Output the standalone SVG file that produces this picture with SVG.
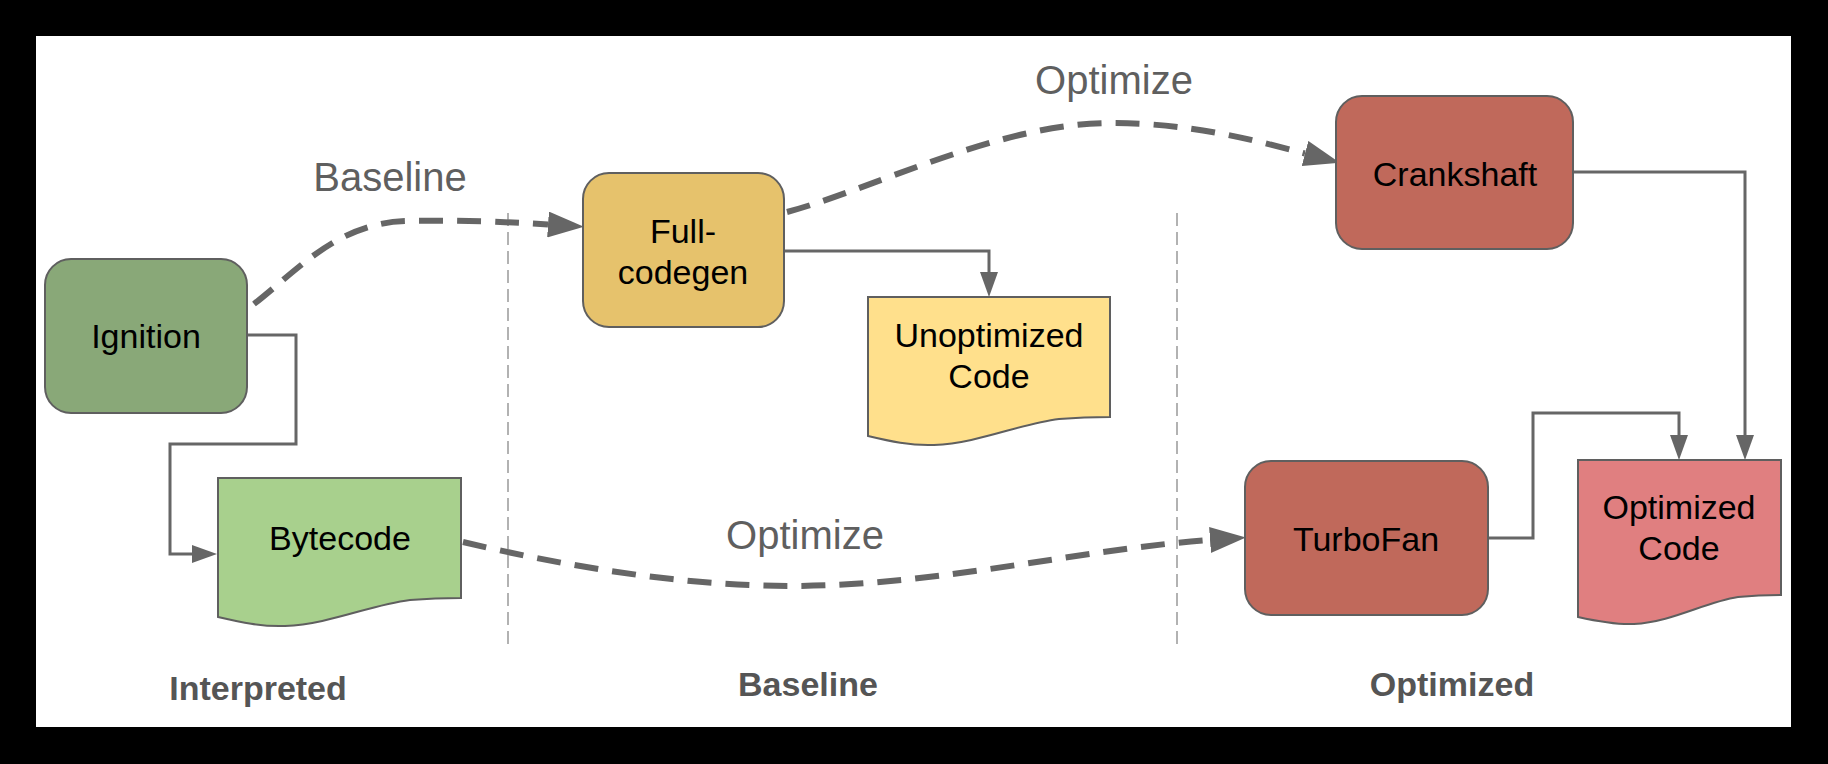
<svg xmlns="http://www.w3.org/2000/svg" width="1828" height="764" viewBox="0 0 1828 764">
<style>
.node{stroke:#5f5f5f;stroke-width:2}
.ntext{font-family:"Liberation Sans",Arial,sans-serif;font-size:34px;fill:#000;text-anchor:middle}
.elabel{font-family:"Liberation Sans",Arial,sans-serif;font-size:40px;fill:#5f5f5f;text-anchor:middle}
.slabel{font-family:"Liberation Sans",Arial,sans-serif;font-size:34px;font-weight:bold;fill:#555;text-anchor:middle}
.conn{fill:none;stroke:#666;stroke-width:3;marker-end:url(#arrowSmall)}
.dconn{fill:none;stroke:#666;stroke-width:6;stroke-dasharray:24 14;marker-end:url(#arrowBig)}
.sep{fill:none;stroke:#999;stroke-width:1.5;stroke-dasharray:13 6}
</style>
<defs>
<marker id="arrowBig" markerUnits="userSpaceOnUse" markerWidth="36" markerHeight="26" refX="0" refY="13" orient="auto" viewBox="0 0 36 26"><path d="M0,0 L36,13 L0,26 Z" fill="#666"/></marker>
<marker id="arrowSmall" markerUnits="userSpaceOnUse" markerWidth="25" markerHeight="18" refX="0" refY="9" orient="auto" viewBox="0 0 25 18"><path d="M0,0 L25,9 L0,18 Z" fill="#666"/></marker>
</defs>
<rect x="0" y="0" width="1828" height="764" fill="#000"/>
<rect x="36" y="36" width="1755" height="691" fill="#fff"/>
<g id="separators">
<line class="sep" x1="508" y1="213" x2="508" y2="644"/>
<line class="sep" x1="1177" y1="213" x2="1177" y2="644"/>
</g>
<g id="connectors">
<path class="conn" d="M247,335 H296 V444 H170 V554 H192"/>
<path class="conn" d="M784,251 H989 V272"/>
<path class="conn" d="M1573,172 H1745 V435"/>
<path class="conn" d="M1488,538 H1533 V413 H1679 V435"/>
<path class="dconn" d="M254,304 C300,268 340,221 410,221 C460,220 510,222 548,224.5"/>
<path class="dconn" d="M787,212 C870,190 1000,123 1110,123 C1190,123 1250,139 1305,153.5"/>
<path class="dconn" d="M463,542 C560,565 680,586 790,586 C940,586 1080,549 1210,540"/>
<text class="elabel" x="390" y="191">Baseline</text>
<text class="elabel" x="1114" y="94">Optimize</text>
<text class="elabel" x="805" y="549">Optimize</text>
</g>
<g id="ignition">
<rect class="node" x="45" y="259" width="202" height="154" rx="26" fill="#89a878"/>
<text class="ntext" x="146" y="348">Ignition</text>
</g>
<g id="fullcodegen">
<rect class="node" x="583" y="173" width="201" height="154" rx="26" fill="#e6c26c"/>
<text class="ntext" x="683" y="243">Full-</text>
<text class="ntext" x="683" y="284">codegen</text>
</g>
<g id="crankshaft">
<rect class="node" x="1336" y="96" width="237" height="153" rx="26" fill="#c0695b"/>
<text class="ntext" x="1455" y="186">Crankshaft</text>
</g>
<g id="turbofan">
<rect class="node" x="1245" y="461" width="243" height="154" rx="26" fill="#c0695b"/>
<text class="ntext" x="1366" y="551">TurboFan</text>
</g>
<g id="bytecode">
<path class="node" fill="#a8d08d" d="M218,478 H461 V598 C450,598 435,598 410,600 C370,605 330,624 285,626 C262,627 240,622 218,617 Z"/>
<text class="ntext" x="340" y="550">Bytecode</text>
</g>
<g id="unoptimized">
<path class="node" fill="#ffe08c" d="M868,297 H1110 V417 C1099,417 1084,417 1059,419 C1019,424 979,443 934,445 C911,446 889,441 868,436 Z"/>
<text class="ntext" x="989" y="347">Unoptimized</text>
<text class="ntext" x="989" y="388">Code</text>
</g>
<g id="optimizedcode">
<path class="node" fill="#e07f80" d="M1578,460 H1781 V595 C1772,595 1759,595 1738,597 C1705,602 1672,622 1634,624 C1615,625 1596,621 1578,617 Z"/>
<text class="ntext" x="1679" y="519">Optimized</text>
<text class="ntext" x="1679" y="560">Code</text>
</g>
<g id="sections">
<text class="slabel" x="258" y="700">Interpreted</text>
<text class="slabel" x="808" y="696">Baseline</text>
<text class="slabel" x="1452" y="696">Optimized</text>
</g>
</svg>
